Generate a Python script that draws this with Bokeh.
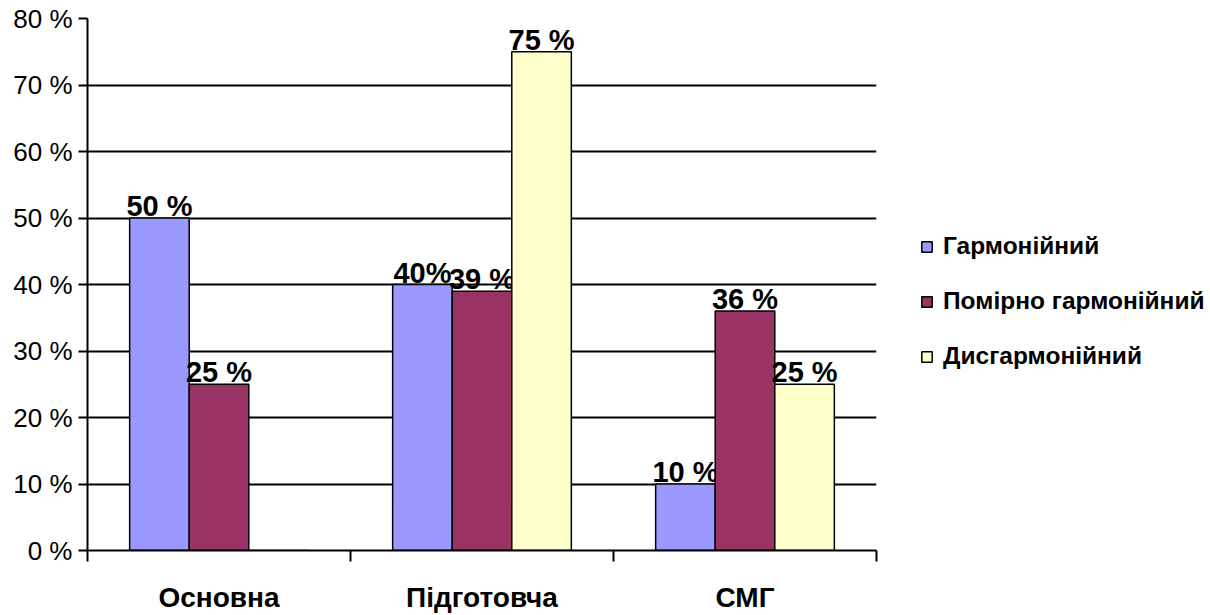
import numpy as np
from bokeh.plotting import figure
from bokeh.models import FixedTicker, Legend, LegendItem, ColumnDataSource, Range1d
from bokeh.core.properties import value
from bokeh.embed import file_html
from bokeh.resources import INLINE

categories = ["Основна", "Підготовча", "СМГ"]
series_names = ["Гармонійний", "Помірно гармонійний", "Дисгармонійний"]
harmonious = [50, 40, 10]
moderate = [25, 39, 36]
disharmonious = [0, 75, 25]
harmonious_labels = ["50 %", "40%", "10 %"]
moderate_labels = ["25 %", "39 %", "36 %"]
disharmonious_labels = ["", "75 %", "25 %"]
y_ticks = [0, 10, 20, 30, 40, 50, 60, 70, 80]
y_tick_labels = ["0 %", "10 %", "20 %", "30 %", "40 %", "50 %", "60 %", "70 %", "80 %"]

colors = ["#9999FF", "#993366", "#FFFFCC"]
FONT = "Liberation Sans"
bar_w = 0.2265
offsets = [-bar_w, 0.0, bar_w]

p = figure(frame_width=789, height=615, output_backend="svg", toolbar_location=None,
           x_range=Range1d(0, len(categories)), y_range=Range1d(0, 80),
           min_border_left=87, min_border_right=334, min_border_top=18, min_border_bottom=60)
p.outline_line_color = None
p.background_fill_color = "white"
p.border_fill_color = "white"

centers = np.arange(len(categories)) + 0.5
renderers = []
all_vals = [harmonious, moderate, disharmonious]
all_labels = [harmonious_labels, moderate_labels, disharmonious_labels]
for j, (vals, labs) in enumerate(zip(all_vals, all_labels)):
    src = ColumnDataSource(dict(x=centers + offsets[j], top=vals, label=labs))
    r = p.vbar(x="x", top="top", width=bar_w, bottom=0, source=src,
               fill_color=colors[j], line_color="black", line_width=1.5)
    renderers.append(r)
    p.text(x="x", y="top", text="label", source=src, text_align="center",
           text_baseline="alphabetic", y_offset=-12,
           text_font=value(FONT), text_font_style="bold", text_font_size="29px",
           text_color="black")

# y axis
p.yaxis.ticker = FixedTicker(ticks=y_ticks)
p.yaxis.major_label_overrides = {t: l for t, l in zip(y_ticks, y_tick_labels)}
p.yaxis.major_label_text_font = FONT
p.yaxis.major_label_text_font_size = "26px"
p.yaxis.major_label_text_color = "black"
p.yaxis.major_tick_out = 9
p.yaxis.major_tick_in = 0
p.yaxis.minor_tick_line_color = None
p.yaxis.axis_line_width = 2
p.yaxis.major_tick_line_width = 2
p.yaxis.axis_line_color = "black"
p.yaxis.major_tick_line_color = "black"
p.yaxis.major_label_standoff = 6

# x axis: tick marks at category boundaries, names centred below
p.xaxis.ticker = FixedTicker(ticks=list(centers), minor_ticks=list(range(len(categories) + 1)))
p.xaxis.major_label_overrides = {float(c): n for c, n in zip(centers, categories)}
p.xaxis.major_label_text_font = FONT
p.xaxis.major_label_text_font_style = "bold"
p.xaxis.major_label_text_font_size = "28px"
p.xaxis.major_label_text_color = "black"
p.xaxis.major_label_standoff = 20
p.xaxis.major_tick_out = 0
p.xaxis.major_tick_in = 0
p.xaxis.major_tick_line_color = None
p.xaxis.minor_tick_out = 11
p.xaxis.minor_tick_in = 0
p.xaxis.minor_tick_line_width = 2
p.xaxis.minor_tick_line_color = "black"
p.xaxis.axis_line_width = 2
p.xaxis.axis_line_color = "black"

p.xgrid.grid_line_color = None
p.ygrid.ticker = FixedTicker(ticks=y_ticks)
p.ygrid.grid_line_color = "black"
p.ygrid.grid_line_width = 2

legend = Legend(items=[LegendItem(label=n, renderers=[r]) for n, r in zip(series_names, renderers)],
                location=(44, 180))
legend.label_text_font = FONT
legend.label_text_font_style = "bold"
legend.label_text_font_size = "24.5px"
legend.label_text_color = "black"
legend.glyph_width = 13
legend.glyph_height = 13
legend.label_height = 20
legend.label_standoff = 10
legend.spacing = 27
legend.padding = 0
legend.margin = 0
legend.border_line_color = None
legend.background_fill_alpha = 0
p.add_layout(legend, "right")

open("out.html", "w").write(file_html(p, INLINE))
